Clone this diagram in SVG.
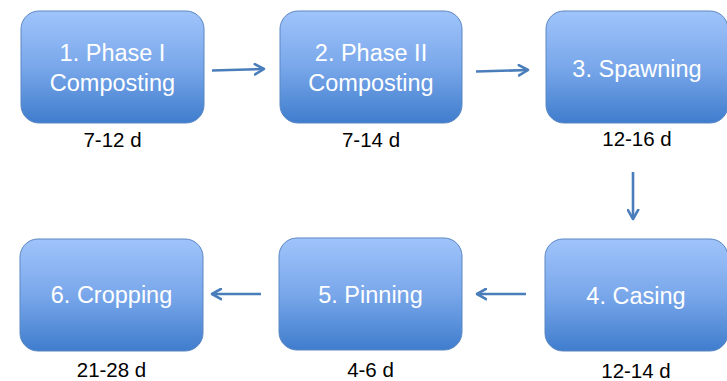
<svg xmlns="http://www.w3.org/2000/svg" width="727" height="381" viewBox="0 0 727 381">
<defs>
<linearGradient id="g" x1="0" y1="0" x2="0" y2="1">
<stop offset="0" stop-color="#a0c4fb"/>
<stop offset="0.5" stop-color="#79a7ea"/>
<stop offset="1" stop-color="#3f7dcd"/>
</linearGradient>
<marker id="ah" viewBox="0 0 10 10" refX="8" refY="5" markerWidth="5" markerHeight="5" orient="auto" markerUnits="strokeWidth">
<path d="M1,1 L8,5 L1,9" fill="none" stroke="#4a7ebb" stroke-width="2" stroke-linecap="round" stroke-linejoin="round"/>
</marker>
<style>
.box{fill:url(#g);stroke:#5b87c2;stroke-width:1}
.t{font-family:"Liberation Sans",Arial,sans-serif;font-size:23.5px;fill:#ffffff;text-anchor:middle}
.d{font-family:"Liberation Sans",Arial,sans-serif;font-size:20.5px;fill:#000000;text-anchor:middle}
.c{stroke:#4a7ebb;stroke-width:2.6;fill:none;marker-end:url(#ah)}
</style>
</defs>
<g id="n1">
<rect class="box" x="21" y="11" width="183" height="112" rx="18"/>
<text class="t" x="112.5" y="61">1. Phase I</text>
<text class="t" x="112.5" y="91">Composting</text>
<text class="d" x="112.5" y="147">7-12 d</text>
</g>
<g id="n2">
<rect class="box" x="280" y="11" width="182" height="112" rx="18"/>
<text class="t" x="371" y="61">2. Phase II</text>
<text class="t" x="371" y="91">Composting</text>
<text class="d" x="371" y="147">7-14 d</text>
</g>
<g id="n3">
<rect class="box" x="546" y="11" width="182" height="112" rx="18"/>
<text class="t" x="637" y="77">3. Spawning</text>
<text class="d" x="637" y="146">12-16 d</text>
</g>
<g id="n4">
<rect class="box" x="545" y="239" width="183" height="112" rx="18"/>
<text class="t" x="636" y="304">4. Casing</text>
<text class="d" x="636" y="378">12-14 d</text>
</g>
<g id="n5">
<rect class="box" x="279" y="238" width="183" height="112" rx="18"/>
<text class="t" x="370.5" y="303">5. Pinning</text>
<text class="d" x="370.5" y="377">4-6 d</text>
</g>
<g id="n6">
<rect class="box" x="20" y="239" width="183" height="112" rx="18"/>
<text class="t" x="111.5" y="303">6. Cropping</text>
<text class="d" x="111.5" y="377">21-28 d</text>
</g>
<g id="connectors">
<line class="c" x1="212" y1="70.5" x2="264" y2="69"/>
<line class="c" x1="476" y1="71.5" x2="528" y2="70"/>
<line class="c" x1="633" y1="172" x2="633" y2="219"/>
<line class="c" x1="526" y1="294" x2="477" y2="294"/>
<line class="c" x1="261" y1="294" x2="212" y2="294"/>
</g>
</svg>
